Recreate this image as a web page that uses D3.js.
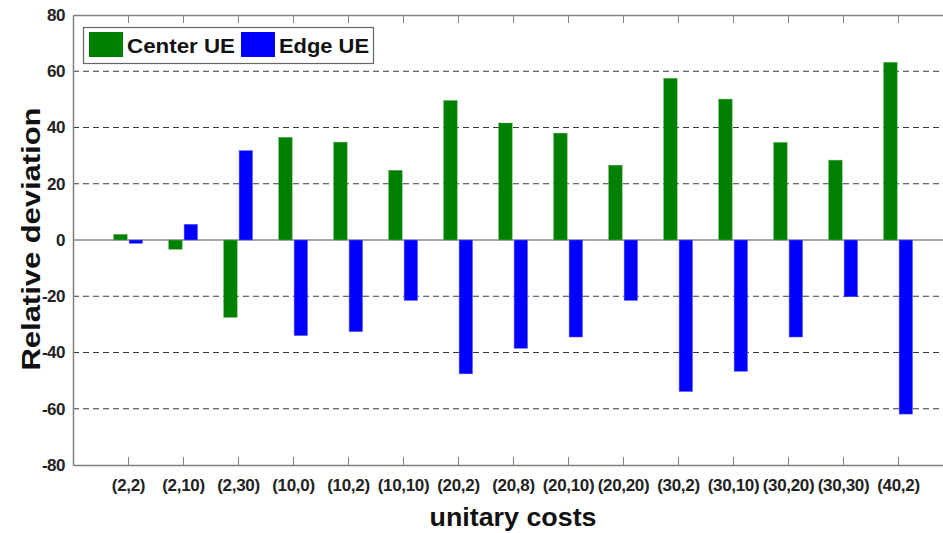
<!DOCTYPE html>
<html><head><meta charset="utf-8">
<script src="https://cdn.jsdelivr.net/npm/d3@7"></script>
<style>body{margin:0;background:#fff}svg{display:block}</style>
</head><body><svg id="c" width="943" height="533"></svg>
<script>
const categories = ["(2,2)","(2,10)","(2,30)","(10,0)","(10,2)","(10,10)","(20,2)","(20,8)","(20,10)","(20,20)","(30,2)","(30,10)","(30,20)","(30,30)","(40,2)"];
const centerUE = [2.0,-3.3,-27.5,36.5,34.8,24.8,49.6,41.6,38.0,26.6,57.5,50.1,34.7,28.4,63.2];
const edgeUE = [-1.2,5.6,31.8,-34.0,-32.6,-21.5,-47.6,-38.5,-34.5,-21.5,-53.9,-46.7,-34.5,-20.2,-61.9];
const yTicks = [-80,-60,-40,-20,0,20,40,60,80];
const seriesNames = ["Center UE","Edge UE"];
const colors = ["#008000","#0000ff"];

const svg = d3.select("#c");
const FF = "Liberation Sans, Arial, sans-serif";
const L = 73, T = 15, B = 465;
const step = 55;
const R = L + step * (categories.length + 1);
const x = d3.scaleLinear().domain([0, categories.length + 1]).range([L, R]);
const y = d3.scaleLinear().domain([-80, 80]).range([B, T]);
const bw = 0.245;

// grid
svg.append("g").selectAll("line").data(yTicks.filter(v => v !== 0 && v !== 80 && v !== -80)).join("line")
  .attr("x1", L).attr("x2", R).attr("y1", d => y(d)).attr("y2", d => y(d))
  .attr("stroke", "#3a3a3a").attr("stroke-width", 1).attr("stroke-dasharray", "6,4");
svg.append("line").attr("x1", L).attr("x2", R).attr("y1", y(0)).attr("y2", y(0))
  .attr("stroke", "#555").attr("stroke-width", 1.2);

// bars
const idx = d3.range(categories.length);
svg.append("g").selectAll("rect").data(idx).join("rect")
  .attr("x", i => x(i + 1) - 0.26 * step)
  .attr("width", bw * step)
  .attr("y", i => y(Math.max(0, centerUE[i])))
  .attr("height", i => Math.abs(y(centerUE[i]) - y(0)))
  .attr("fill", colors[0]).attr("stroke", "#5fb05f").attr("stroke-width", 0.5);
svg.append("g").selectAll("rect").data(idx).join("rect")
  .attr("x", i => x(i + 1) + 0.02 * step)
  .attr("width", bw * step)
  .attr("y", i => y(Math.max(0, edgeUE[i])))
  .attr("height", i => Math.abs(y(edgeUE[i]) - y(0)))
  .attr("fill", colors[1]).attr("stroke", "#6a6aff").attr("stroke-width", 0.5);

// axes
const axCol = "#808080";
const xb = d3.axisBottom(x).tickValues(idx.map(i => i + 1)).tickFormat(d => categories[d - 1]).tickSizeInner(-8).tickSizeOuter(0).tickPadding(12);
const gx = svg.append("g").attr("transform", `translate(0,${B})`).call(xb);
gx.attr("font-size", null).attr("font-family", null);
gx.select(".domain").attr("stroke", axCol).attr("stroke-width", 1.5);
gx.selectAll(".tick line").attr("stroke", axCol);
gx.selectAll("text").attr("fill", "#222").style("font-family", FF).style("font-size", "17px").style("font-weight", "bold").style("letter-spacing", "-0.3px").attr("dy", "0.8em");

const xt = d3.axisTop(x).tickValues(idx.map(i => i + 1)).tickFormat("").tickSizeInner(-8).tickSizeOuter(0);
const gxt = svg.append("g").attr("transform", `translate(0,${T})`).call(xt);
gxt.select(".domain").attr("stroke", axCol).attr("stroke-width", 1.5);
gxt.selectAll(".tick line").attr("stroke", axCol);

const yl = d3.axisLeft(y).tickValues(yTicks).tickFormat(d => String(d)).tickSize(0).tickPadding(8);
const gy = svg.append("g").attr("transform", `translate(${L},0)`).call(yl);
gy.attr("font-size", null).attr("font-family", null);
gy.select(".domain").attr("stroke", axCol).attr("stroke-width", 1.5);
gy.selectAll("text").attr("fill", "#222").style("font-family", FF).style("font-size", "17px").style("font-weight", "bold").style("letter-spacing", "-0.5px");

// axis titles
svg.append("text").attr("x", 513).attr("y", 526).attr("text-anchor", "middle")
  .style("font-family", FF).style("font-size", "26px").style("font-weight", "bold").attr("fill", "#111")
  .attr("textLength", 167).attr("lengthAdjust", "spacingAndGlyphs")
  .text("unitary costs");
svg.append("text").attr("transform", "translate(40,239) rotate(-90)").attr("text-anchor", "middle")
  .style("font-family", FF).style("font-size", "26px").style("font-weight", "bold").attr("fill", "#111")
  .attr("textLength", 263).attr("lengthAdjust", "spacingAndGlyphs")
  .text("Relative deviation");

// legend
const lg = svg.append("g");
lg.append("rect").attr("x", 83.5).attr("y", 27.5).attr("width", 290).attr("height", 36).attr("fill", "#fff").attr("stroke", "#666").attr("stroke-width", 1.2);
const lx = [89, 241];
const lw = [108, 90];
seriesNames.forEach((n, i) => {
  lg.append("rect").attr("x", lx[i]).attr("y", 32).attr("width", 34).attr("height", 25).attr("fill", colors[i]);
  lg.append("text").attr("x", lx[i] + 38).attr("y", 53).style("font-family", FF)
    .style("font-size", "21px").style("font-weight", "bold").attr("fill", "#111")
    .attr("textLength", lw[i]).attr("lengthAdjust", "spacingAndGlyphs").text(n);
});
</script></body></html>
